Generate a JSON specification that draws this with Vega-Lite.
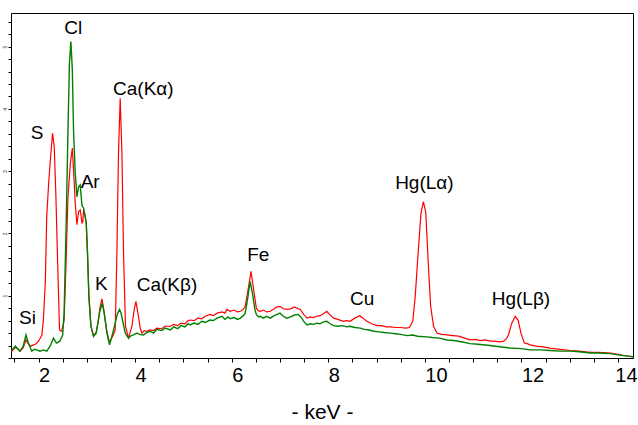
{
  "$schema": "https://vega.github.io/schema/vega-lite/v6.json",
  "width": 622,
  "height": 345,
  "autosize": {"type": "none"},
  "padding": {"left": 11, "top": 13, "right": 5, "bottom": 67},
  "background": "white",
  "config": {
    "view": {"stroke": "black", "strokeWidth": 1},
    "font": "Liberation Sans"
  },
  "datasets": {
    "red": [
      {"e":1.43,"c":0.12},{"e":1.45,"c":0.11},{"e":1.52,"c":0.17},{"e":1.58,"c":0.14},{"e":1.62,"c":0.11},{"e":1.68,"c":0.16},{"e":1.74,"c":0.29},{"e":1.78,"c":0.24},{"e":1.83,"c":0.19},{"e":1.9,"c":0.21},{"e":1.95,"c":0.23},{"e":2.0,"c":0.27},{"e":2.07,"c":0.37},{"e":2.1,"c":0.61},{"e":2.14,"c":1.2},{"e":2.17,"c":2.27},{"e":2.21,"c":2.81},{"e":2.24,"c":3.13},{"e":2.29,"c":3.61},{"e":2.325,"c":3.4},{"e":2.36,"c":2.59},{"e":2.4,"c":1.42},{"e":2.435,"c":0.45},{"e":2.48,"c":0.43},{"e":2.53,"c":0.61},{"e":2.57,"c":1.53},{"e":2.61,"c":2.59},{"e":2.66,"c":3.13},{"e":2.7,"c":3.37},{"e":2.725,"c":3.02},{"e":2.76,"c":2.49},{"e":2.795,"c":2.14},{"e":2.83,"c":2.35},{"e":2.863,"c":2.38},{"e":2.9,"c":2.17},{"e":2.919,"c":2.19},{"e":2.932,"c":2.38},{"e":2.96,"c":2.3},{"e":2.988,"c":2.17},{"e":3.014,"c":1.69},{"e":3.043,"c":0.99},{"e":3.085,"c":0.51},{"e":3.139,"c":0.35},{"e":3.195,"c":0.42},{"e":3.242,"c":0.61},{"e":3.27,"c":0.8},{"e":3.313,"c":0.95},{"e":3.35,"c":0.78},{"e":3.381,"c":0.61},{"e":3.416,"c":0.42},{"e":3.47,"c":0.25},{"e":3.52,"c":0.33},{"e":3.55,"c":0.37},{"e":3.588,"c":0.45},{"e":3.623,"c":1.69},{"e":3.656,"c":3.29},{"e":3.691,"c":4.17},{"e":3.727,"c":3.29},{"e":3.76,"c":1.69},{"e":3.801,"c":0.51},{"e":3.863,"c":0.32},{"e":3.934,"c":0.51},{"e":3.981,"c":0.78},{"e":4.017,"c":0.91},{"e":4.058,"c":0.72},{"e":4.106,"c":0.48},{"e":4.141,"c":0.4},{"e":4.19,"c":0.44},{"e":4.244,"c":0.43},{"e":4.31,"c":0.45},{"e":4.38,"c":0.44},{"e":4.451,"c":0.48},
      {"e":4.55,"c":0.47},{"e":4.62,"c":0.51},{"e":4.73,"c":0.51},{"e":4.8,"c":0.54},{"e":4.88,"c":0.52},{"e":4.95,"c":0.56},{"e":5.03,"c":0.55},{"e":5.1,"c":0.6},{"e":5.14,"c":0.61},{"e":5.22,"c":0.6},{"e":5.3,"c":0.64},{"e":5.38,"c":0.63},{"e":5.45,"c":0.67},{"e":5.55,"c":0.7},{"e":5.62,"c":0.68},{"e":5.7,"c":0.72},{"e":5.8,"c":0.74},{"e":5.86,"c":0.72},{"e":5.9,"c":0.78},{"e":5.97,"c":0.75},{"e":6.05,"c":0.77},{"e":6.12,"c":0.74},{"e":6.18,"c":0.75},{"e":6.24,"c":0.78},{"e":6.28,"c":0.83},{"e":6.34,"c":1.1},{"e":6.4,"c":1.39},{"e":6.45,"c":1.12},{"e":6.51,"c":0.8},{"e":6.55,"c":0.76},{"e":6.59,"c":0.75},{"e":6.66,"c":0.77},{"e":6.72,"c":0.74},{"e":6.8,"c":0.75},{"e":6.88,"c":0.79},{"e":6.94,"c":0.82},{"e":7.0,"c":0.83},{"e":7.07,"c":0.79},{"e":7.14,"c":0.78},{"e":7.22,"c":0.79},{"e":7.3,"c":0.82},{"e":7.35,"c":0.8},{"e":7.42,"c":0.78},{"e":7.49,"c":0.7},{"e":7.56,"c":0.64},{"e":7.63,"c":0.66},{"e":7.7,"c":0.65},{"e":7.76,"c":0.67},{"e":7.83,"c":0.68},{"e":7.9,"c":0.71},{"e":7.97,"c":0.75},{"e":8.04,"c":0.69},{"e":8.11,"c":0.64},{"e":8.2,"c":0.62},{"e":8.31,"c":0.59},{"e":8.38,"c":0.6},{"e":8.45,"c":0.59},{"e":8.55,"c":0.64},{"e":8.65,"c":0.68},{"e":8.72,"c":0.64},{"e":8.8,"c":0.59},{"e":8.9,"c":0.55},{"e":9.01,"c":0.52},{"e":9.1,"c":0.52},{"e":9.2,"c":0.5},{"e":9.28,"c":0.5},{"e":9.4,"c":0.49},{"e":9.5,"c":0.49},{"e":9.6,"c":0.48},{"e":9.68,"c":0.49},{"e":9.75,"c":0.59},{"e":9.8,"c":0.99},{"e":9.87,"c":1.79},{"e":9.92,"c":2.33},{"e":9.97,"c":2.51},{"e":10.02,"c":2.33},{"e":10.07,"c":1.52},{"e":10.12,"c":0.83},{"e":10.18,"c":0.51},{"e":10.25,"c":0.4},{"e":10.35,"c":0.38},{"e":10.46,"c":0.37},{"e":10.58,"c":0.36},{"e":10.7,"c":0.35},{"e":10.82,"c":0.32},{"e":10.94,"c":0.29},{"e":11.05,"c":0.3},{"e":11.15,"c":0.28},{"e":11.25,"c":0.29},{"e":11.35,"c":0.27},{"e":11.45,"c":0.27},{"e":11.55,"c":0.26},{"e":11.63,"c":0.27},{"e":11.69,"c":0.31},{"e":11.73,"c":0.37},{"e":11.8,"c":0.56},{"e":11.87,"c":0.67},{"e":11.93,"c":0.61},{"e":11.99,"c":0.4},{"e":12.06,"c":0.24},{"e":12.12,"c":0.23},{"e":12.18,"c":0.21},{"e":12.3,"c":0.19},{"e":12.45,"c":0.18},{"e":12.59,"c":0.16},{"e":12.8,"c":0.14},{"e":13.01,"c":0.12},{"e":13.2,"c":0.11},{"e":13.42,"c":0.09},{"e":13.6,"c":0.09},{"e":13.84,"c":0.08},{"e":14.0,"c":0.06},{"e":14.11,"c":0.04},{"e":14.31,"c":0.02}
    ],
    "green": [
      {"e":1.43,"c":0.12},{"e":1.45,"c":0.13},{"e":1.52,"c":0.19},{"e":1.61,"c":0.11},{"e":1.68,"c":0.18},{"e":1.74,"c":0.37},{"e":1.79,"c":0.24},{"e":1.86,"c":0.11},{"e":1.92,"c":0.14},{"e":1.96,"c":0.13},{"e":2.03,"c":0.11},{"e":2.1,"c":0.13},{"e":2.17,"c":0.11},{"e":2.24,"c":0.19},{"e":2.31,"c":0.32},{"e":2.37,"c":0.24},{"e":2.44,"c":0.27},{"e":2.5,"c":0.37},{"e":2.53,"c":0.73},{"e":2.57,"c":2.06},{"e":2.61,"c":3.66},{"e":2.64,"c":4.73},{"e":2.67,"c":5.08},{"e":2.7,"c":4.63},{"e":2.725,"c":3.66},{"e":2.76,"c":2.97},{"e":2.795,"c":2.59},{"e":2.83,"c":2.75},{"e":2.863,"c":2.78},{"e":2.9,"c":2.45},{"e":2.932,"c":2.41},{"e":2.96,"c":2.3},{"e":2.988,"c":2.17},{"e":3.014,"c":1.69},{"e":3.043,"c":0.99},{"e":3.085,"c":0.51},{"e":3.139,"c":0.35},{"e":3.195,"c":0.4},{"e":3.263,"c":0.73},{"e":3.319,"c":0.88},{"e":3.36,"c":0.72},{"e":3.416,"c":0.4},{"e":3.47,"c":0.21},{"e":3.52,"c":0.35},{"e":3.588,"c":0.56},{"e":3.63,"c":0.7},{"e":3.677,"c":0.78},{"e":3.71,"c":0.72},{"e":3.739,"c":0.61},{"e":3.795,"c":0.4},{"e":3.863,"c":0.32},{"e":3.92,"c":0.36},{"e":3.967,"c":0.37},{"e":4.037,"c":0.4},{"e":4.09,"c":0.38},{"e":4.174,"c":0.37},{"e":4.24,"c":0.41},{"e":4.313,"c":0.43},{"e":4.38,"c":0.4},{"e":4.451,"c":0.46},
      {"e":4.55,"c":0.44},{"e":4.62,"c":0.48},{"e":4.73,"c":0.45},{"e":4.8,"c":0.5},{"e":4.88,"c":0.47},{"e":4.95,"c":0.52},{"e":5.03,"c":0.5},{"e":5.1,"c":0.55},{"e":5.14,"c":0.53},{"e":5.22,"c":0.56},{"e":5.3,"c":0.54},{"e":5.38,"c":0.59},{"e":5.45,"c":0.57},{"e":5.55,"c":0.61},{"e":5.62,"c":0.6},{"e":5.7,"c":0.64},{"e":5.8,"c":0.67},{"e":5.86,"c":0.62},{"e":5.92,"c":0.66},{"e":5.97,"c":0.63},{"e":6.05,"c":0.65},{"e":6.12,"c":0.62},{"e":6.18,"c":0.64},{"e":6.24,"c":0.68},{"e":6.28,"c":0.72},{"e":6.33,"c":0.95},{"e":6.38,"c":1.23},{"e":6.43,"c":1.04},{"e":6.48,"c":0.78},{"e":6.51,"c":0.7},{"e":6.56,"c":0.66},{"e":6.59,"c":0.67},{"e":6.66,"c":0.64},{"e":6.72,"c":0.67},{"e":6.8,"c":0.64},{"e":6.88,"c":0.68},{"e":6.94,"c":0.7},{"e":7.0,"c":0.72},{"e":7.07,"c":0.67},{"e":7.14,"c":0.64},{"e":7.22,"c":0.66},{"e":7.3,"c":0.69},{"e":7.38,"c":0.7},{"e":7.45,"c":0.64},{"e":7.5,"c":0.58},{"e":7.56,"c":0.53},{"e":7.63,"c":0.55},{"e":7.7,"c":0.54},{"e":7.76,"c":0.56},{"e":7.83,"c":0.55},{"e":7.9,"c":0.58},{"e":7.97,"c":0.59},{"e":8.04,"c":0.55},{"e":8.11,"c":0.52},{"e":8.2,"c":0.51},{"e":8.3,"c":0.52},{"e":8.38,"c":0.5},{"e":8.45,"c":0.51},{"e":8.55,"c":0.49},{"e":8.66,"c":0.48},{"e":8.75,"c":0.46},{"e":8.85,"c":0.45},{"e":8.94,"c":0.43},{"e":9.05,"c":0.42},{"e":9.15,"c":0.41},{"e":9.28,"c":0.4},{"e":9.4,"c":0.39},{"e":9.5,"c":0.38},{"e":9.63,"c":0.36},{"e":9.75,"c":0.37},{"e":9.85,"c":0.35},{"e":10.04,"c":0.34},{"e":10.15,"c":0.33},{"e":10.3,"c":0.32},{"e":10.46,"c":0.29},{"e":10.6,"c":0.28},{"e":10.75,"c":0.26},{"e":10.94,"c":0.23},{"e":11.1,"c":0.22},{"e":11.35,"c":0.2},{"e":11.55,"c":0.18},{"e":11.76,"c":0.16},{"e":12.0,"c":0.15},{"e":12.18,"c":0.13},{"e":12.4,"c":0.13},{"e":12.59,"c":0.12},{"e":12.8,"c":0.11},{"e":13.01,"c":0.11},{"e":13.2,"c":0.1},{"e":13.42,"c":0.08},{"e":13.6,"c":0.08},{"e":13.84,"c":0.07},{"e":14.0,"c":0.05},{"e":14.2,"c":0.03},{"e":14.31,"c":0.02}
    ],
    "labels": [
      {"e":1.77,"c":0.65,"t":"Si"},
      {"e":1.97,"c":3.62,"t":"S"},
      {"e":2.72,"c":5.3,"t":"Cl"},
      {"e":3.07,"c":2.83,"t":"Ar"},
      {"e":3.3,"c":1.19,"t":"K"},
      {"e":4.17,"c":4.32,"t":"Ca(Kα)"},
      {"e":4.66,"c":1.18,"t":"Ca(Kβ)"},
      {"e":6.55,"c":1.66,"t":"Fe"},
      {"e":8.7,"c":0.94,"t":"Cu"},
      {"e":9.99,"c":2.81,"t":"Hg(Lα)"},
      {"e":11.99,"c":0.94,"t":"Hg(Lβ)"}
    ]
  },
  "encoding": {
    "x": {
      "field": "e", "type": "quantitative",
      "scale": {"domain": [1.43, 14.31], "nice": false, "zero": false},
      "axis": {
        "values": [1.5,2,2.5,3,3.5,4,4.5,5,5.5,6,6.5,7,7.5,8,8.5,9,9.5,10,10.5,11,11.5,12,12.5,13,13.5,14],
        "labelExpr": "datum.value % 2 === 0 ? format(datum.value, 'd') : ''",
        "labelAlign": {"condition": {"test": "datum.value === 14", "value": "right"}, "value": "left"},
        "labelOffset": {"condition": {"test": "datum.value === 14", "value": 19}, "value": 0},
        "labelFlush": false,
        "labelOverlap": false,
        "labelBound": false,
        "labelFontSize": 20,
        "labelColor": "black",
        "labelPadding": 3,
        "tickColor": "black",
        "tickSize": 4,
        "domain": false,
        "grid": false,
        "title": "- keV -",
        "titleFontSize": 21,
        "titleFontWeight": "normal",
        "titleColor": "black",
        "titlePadding": 16
      }
    },
    "y": {
      "field": "c", "type": "quantitative",
      "scale": {"domain": [0, 5.54], "nice": false, "zero": true},
      "axis": {
        "values": [0,0.2,0.4,0.6,0.8,1,1.2,1.4,1.6,1.8,2,2.2,2.4,2.6,2.8,3,3.2,3.4,3.6,3.8,4,4.2,4.4,4.6,4.8,5,5.2,5.4],
        "labelExpr": "datum.value > 0.5 && abs(datum.value - round(datum.value)) < 0.01 ? format(round(datum.value), 'd') : ''",
        "labelFontSize": 5,
        "labelAngle": 270,
        "labelColor": "#333",
        "labelPadding": 1,
        "labelOverlap": false,
        "tickColor": "black",
        "tickSize": 3,
        "domain": false,
        "grid": false,
        "title": null
      }
    }
  },
  "layer": [
    {
      "data": {"name": "red"},
      "mark": {"type": "line", "color": "#ff0000", "strokeWidth": 1.2, "clip": true}
    },
    {
      "data": {"name": "green"},
      "mark": {"type": "line", "color": "#008000", "strokeWidth": 1.4, "clip": true}
    },
    {
      "data": {"name": "labels"},
      "mark": {"type": "text", "fontSize": 19, "font": "Liberation Sans", "color": "black", "align": "center", "baseline": "middle"},
      "encoding": {"text": {"field": "t", "type": "nominal"}}
    }
  ]
}
